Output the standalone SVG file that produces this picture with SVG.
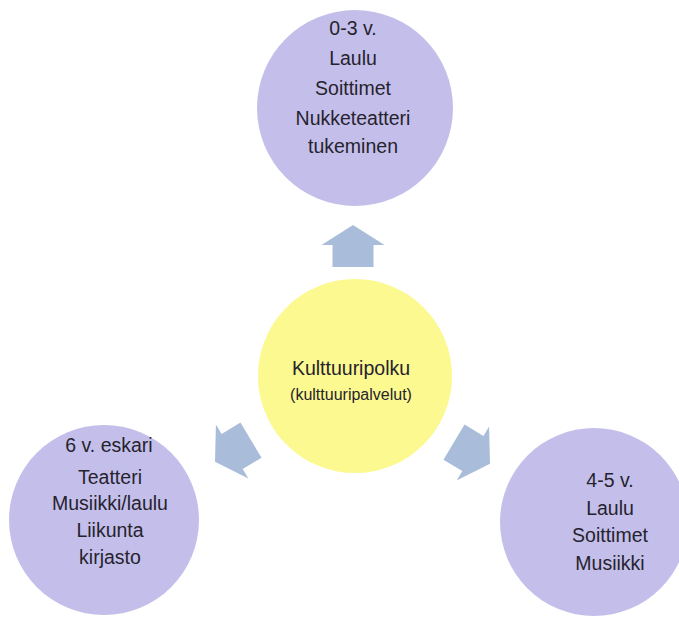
<svg xmlns="http://www.w3.org/2000/svg" width="679" height="622" viewBox="0 0 679 622">
<defs>
<style>
.bg{fill:#ffffff}
.age{fill:#c4bfea}
.core{fill:#fbf98f}
.t{font-family:"Liberation Sans",Arial,sans-serif;font-size:19.5px;fill:#26232e;text-anchor:middle}
.s{font-size:16px}
.arrow{fill:#a9bddb}
</style>
<path id="blk" d="M0,-21 L31.5,-1 L20.5,-1 L20.5,21 L-20.5,21 L-20.5,-1 L-31.5,-1 Z"/>
</defs>
<rect class="bg" x="0" y="0" width="679" height="622"/>
<g id="connectors">
<use href="#blk" class="arrow" transform="translate(353,246)"/>
<use href="#blk" class="arrow" transform="translate(233,451) rotate(-121)"/>
<use href="#blk" class="arrow" transform="translate(472,453) rotate(121)"/>
</g>
<g id="center">
<circle class="core" cx="355" cy="376" r="97"/>
<text class="t" x="351" y="375">Kulttuuripolku</text>
<text class="t s" x="351" y="400">(kulttuuripalvelut)</text>
</g>
<g id="top">
<circle class="age" cx="355" cy="108" r="98"/>
<text class="t" x="353" y="35">0-3 v.</text>
<text class="t" x="353" y="65">Laulu</text>
<text class="t" x="353" y="95">Soittimet</text>
<text class="t" x="353" y="125">Nukketeatteri</text>
<text class="t" x="353" y="153">tukeminen</text>
</g>
<g id="left">
<circle class="age" cx="104" cy="520" r="95"/>
<text class="t" x="109" y="452">6 v. eskari</text>
<text class="t" x="110" y="484">Teatteri</text>
<text class="t" x="110" y="510">Musiikki/laulu</text>
<text class="t" x="110" y="537">Liikunta</text>
<text class="t" x="110" y="564">kirjasto</text>
</g>
<g id="right">
<circle class="age" cx="594" cy="522" r="94"/>
<text class="t" x="610" y="487">4-5 v.</text>
<text class="t" x="610" y="515">Laulu</text>
<text class="t" x="610" y="542">Soittimet</text>
<text class="t" x="610" y="570">Musiikki</text>
</g>
</svg>
